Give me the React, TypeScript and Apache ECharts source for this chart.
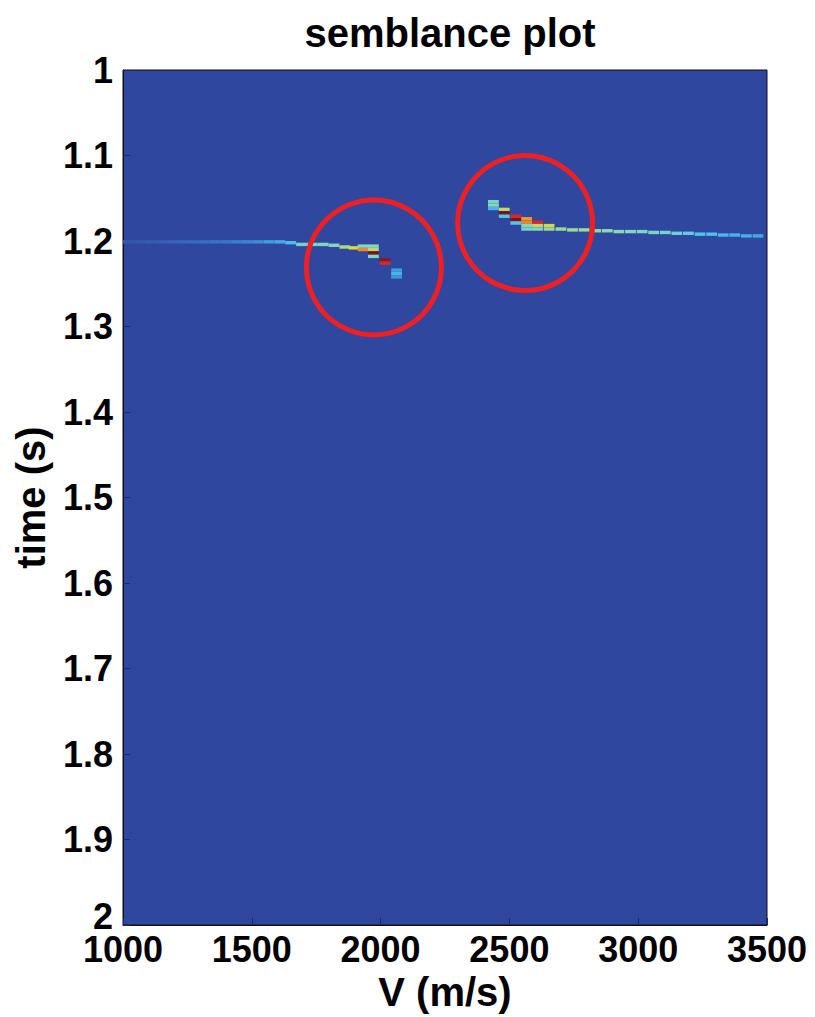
import React, { useEffect, useRef } from "react";
import * as echarts from "echarts";

// Velocity scan range (m/s) and time window (s)
const velocityTicks = [1000, 1500, 2000, 2500, 3000, 3500];
const timeTicks = [1, 1.1, 1.2, 1.3, 1.4, 1.5, 1.6, 1.7, 1.8, 1.9, 2];

// Semblance cells: [velocity m/s, time s, semblance 0..1]
// Shallower reflector, flattening near 2000 m/s
const eventA: [number, number, number][] = [
  [1021, 1.201, 0.06], [1063, 1.201, 0.07], [1105, 1.201, 0.08], [1147, 1.201, 0.09],
  [1189, 1.201, 0.11], [1231, 1.201, 0.12], [1273, 1.201, 0.13], [1315, 1.201, 0.14],
  [1357, 1.201, 0.15], [1399, 1.201, 0.16], [1441, 1.201, 0.18], [1483, 1.201, 0.2],
  [1525, 1.201, 0.22], [1567, 1.201, 0.25], [1609, 1.201, 0.28], [1651, 1.202, 0.32],
  [1693, 1.204, 0.42], [1735, 1.204, 0.45], [1777, 1.204, 0.45], [1819, 1.205, 0.46],
  [1861, 1.207, 0.52], [1897, 1.208, 0.62],
  [1932, 1.206, 0.45], [1932, 1.210, 0.78],
  [1972, 1.206, 0.45], [1972, 1.210, 0.56], [1972, 1.214, 1.0], [1972, 1.218, 0.45],
  [2017, 1.222, 0.98], [2017, 1.226, 0.9],
  [2062, 1.234, 0.25], [2062, 1.238, 0.3], [2062, 1.242, 0.24],
];

// Reflector near 2550 m/s with a long tail towards high velocity
const eventB: [number, number, number][] = [
  [2438, 1.154, 0.42], [2438, 1.158, 0.47], [2438, 1.162, 0.3],
  [2480, 1.163, 0.55], [2480, 1.167, 1.0], [2480, 1.171, 0.35],
  [2525, 1.171, 0.9], [2525, 1.175, 1.0], [2525, 1.179, 0.35],
  [2567, 1.174, 0.76], [2567, 1.178, 0.78], [2567, 1.182, 0.45], [2567, 1.186, 0.42],
  [2609, 1.178, 0.9], [2609, 1.182, 0.58], [2609, 1.186, 0.45],
  [2654, 1.182, 0.6], [2654, 1.186, 0.5],
  [2700, 1.186, 0.5], [2745, 1.187, 0.5], [2790, 1.187, 0.5],
  [2835, 1.188, 0.48], [2880, 1.188, 0.47], [2925, 1.189, 0.47],
  [2970, 1.189, 0.45], [3015, 1.189, 0.44], [3060, 1.19, 0.43], [3105, 1.19, 0.42],
  [3150, 1.191, 0.4], [3195, 1.191, 0.38], [3240, 1.192, 0.34], [3285, 1.192, 0.33],
  [3330, 1.193, 0.31], [3375, 1.193, 0.3], [3420, 1.194, 0.29], [3465, 1.194, 0.28],
];

// Highlighted picks (circle centres): [velocity, time]
const picks: [number, number][] = [
  [1974, 1.231],
  [2561, 1.179],
];

// Cell size of the semblance grid
const DV = 42;
const DT = 0.004;

const jet = [
  "#2f479e", "#3565b8", "#3a8fd8", "#4dc3ec", "#7fd7c2",
  "#b8da6a", "#f2d820", "#ef8a2a", "#e02a2e", "#7a1418",
];

const FONT = "'Liberation Sans', Arial, sans-serif";
const textBase = { fontFamily: FONT, fontWeight: "bold" as const, color: "#000" };

export default function App() {
  const ref = useRef<HTMLDivElement>(null);

  useEffect(() => {
    if (!ref.current) return;
    const chart = echarts.init(ref.current, undefined, { renderer: "svg" });
    const cells = [...eventA, ...eventB];

    chart.setOption({
      animation: false,
      backgroundColor: "#ffffff",
      title: {
        text: "semblance plot",
        left: 445,
        textAlign: "center",
        top: 8,
        textStyle: { ...textBase, fontSize: 40 },
      },
      grid: {
        left: 123,
        top: 70,
        width: 644,
        height: 855,
        outerBoundsMode: "none",
        containLabel: false,
        show: true,
        backgroundColor: "#2f479e",
        borderColor: "#111",
        borderWidth: 1,
      },
      xAxis: {
        type: "value",
        min: velocityTicks[0],
        max: velocityTicks[velocityTicks.length - 1],
        interval: 500,
        name: "V (m/s)",
        nameLocation: "middle",
        nameGap: 44,
        nameTextStyle: { ...textBase, fontSize: 40 },
        axisLine: { show: true, lineStyle: { color: "#111", width: 1 } },
        axisTick: { show: true, inside: true, length: 7, lineStyle: { color: "#1b2a66" } },
        axisLabel: {
          ...textBase,
          fontSize: 36,
          margin: 6,
          formatter: (v: number) => String(v),
        },
        splitLine: { show: false },
      },
      yAxis: {
        type: "value",
        inverse: true,
        min: timeTicks[0],
        max: timeTicks[timeTicks.length - 1],
        interval: 0.1,
        name: "time (s)",
        nameLocation: "middle",
        nameRotate: 90,
        nameGap: 72,
        nameTextStyle: { ...textBase, fontSize: 40 },
        axisLine: { show: true, lineStyle: { color: "#111", width: 1 } },
        axisTick: { show: true, inside: true, length: 7, lineStyle: { color: "#1b2a66" } },
        axisLabel: {
          ...textBase,
          fontSize: 36,
          margin: 10,
          formatter: (v: number) => {
            const s = String(Math.round(v * 10) / 10);
            return v >= 1.95 ? `{last|${s}}` : s;
          },
          rich: { last: { ...textBase, fontSize: 36, padding: [0, 0, 18, 0] } },
        },
        splitLine: { show: false },
      },
      visualMap: {
        type: "continuous",
        show: false,
        min: 0,
        max: 1,
        dimension: 2,
        seriesIndex: 0,
        inRange: { color: jet },
      },
      series: [
        {
          type: "custom",
          clip: true,
          encode: { x: 0, y: 1 },
          data: cells,
          renderItem: (params: any, api: any) => {
            const v = api.value(0);
            const t = api.value(1);
            const p0 = api.coord([v - DV / 2, t - DT / 2]);
            const p1 = api.coord([v + DV / 2, t + DT / 2]);
            return {
              type: "rect",
              shape: {
                x: Math.min(p0[0], p1[0]),
                y: Math.min(p0[1], p1[1]),
                width: Math.abs(p1[0] - p0[0]),
                height: Math.abs(p1[1] - p0[1]),
              },
              style: { fill: api.visual("color") },
            };
          },
        },
        {
          type: "scatter",
          data: picks,
          symbol: "circle",
          symbolSize: 135,
          itemStyle: {
            color: "rgba(0,0,0,0)",
            borderColor: "#ee2024",
            borderWidth: 5,
            opacity: 1,
          },
          silent: true,
          z: 5,
        },
      ],
    });

    return () => chart.dispose();
  }, []);

  return (
    <div
      ref={ref}
      style={{ position: "fixed", left: 0, top: 0, width: 815, height: 1017 }}
    />
  );
}
